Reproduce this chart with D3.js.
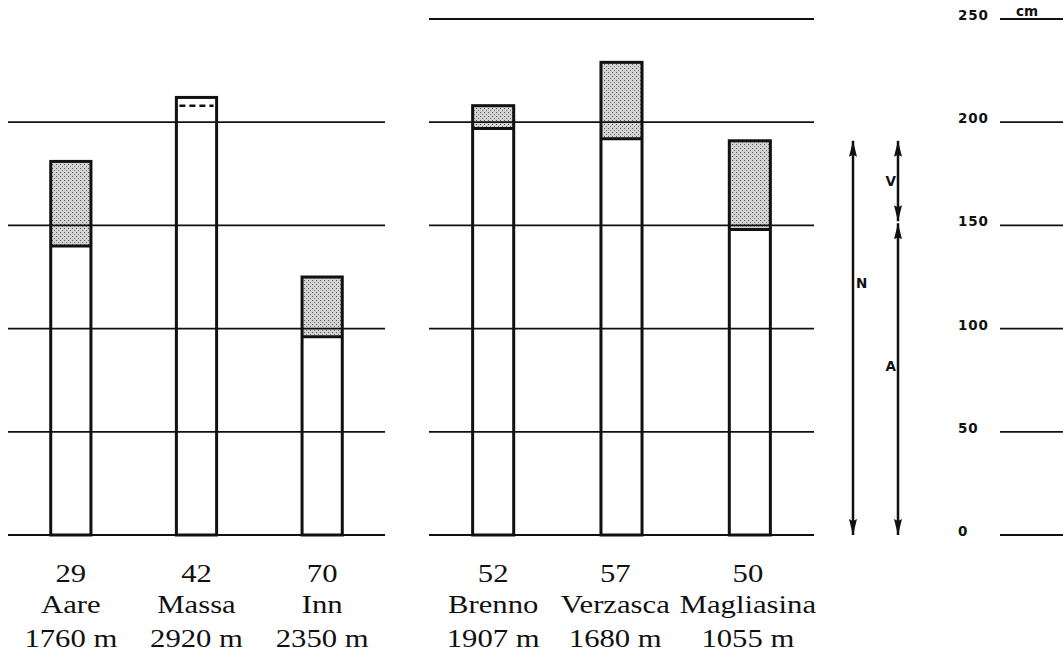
<!DOCTYPE html>
<html>
<head>
<meta charset="utf-8">
<script src="https://cdn.jsdelivr.net/npm/d3@7"></script>
<style>
  body { margin: 0; background: #fff; }
  svg { display: block; }
  .lbl { font-family: "Liberation Serif", "Times New Roman", serif; font-size: 26px; fill: #111; }
  .key { font-family: "DejaVu Sans", sans-serif; font-weight: bold; font-size: 13.5px; fill: #111; }
</style>
</head>
<body>
<div id="chart"></div>
<script>
// Precipitation bars (N = A + V) for six rivers, two groups, with a key and cm scale

const rivers = ["Aare", "Massa", "Inn", "Brenno", "Verzasca", "Magliasina"];
const stations = ["29", "42", "70", "52", "57", "50"];
const altitudes = [1760, 2920, 2350, 1907, 1680, 1055]; // m
const groups = ["north", "north", "north", "south", "south", "south"];
const totalN = [181, 212, 125, 208, 229, 191]; // cm, bar top
const partA = [140, 208, 96, 197, 192, 148];   // cm, split line
const splitKnown = [true, false, true, true, true, true]; // false -> dashed, no shading
const gridNorth = [0, 50, 100, 150, 200];
const gridSouth = [0, 50, 100, 150, 200, 250];
const scaleTicks = [0, 50, 100, 150, 200, 250];
const keyArrows = [
  {label: "N", col: 0, lo: 0, hi: 191},
  {label: "V", col: 1, lo: 152, hi: 191},
  {label: "A", col: 1, lo: 0, hi: 151}];

const rows = rivers.map((r, i) => ({
  river: r, station: stations[i], alt: altitudes[i], group: groups[i],
  n: totalN[i], a: partA[i], known: splitKnown[i]
}));

const W = 1063, H = 655;
const svg = d3.select("#chart").append("svg")
  .attr("width", W).attr("height", H);

const y = d3.scaleLinear().domain([0, 250]).range([535, 19]);

const panels = [
  {key: "north", x0: 8, x1: 385, grid: gridNorth},
  {key: "south", x0: 429, x1: 814, grid: gridSouth}];

panels.forEach(p => {
  p.x = d3.scaleBand()
    .domain(rows.filter(d => d.group === p.key).map(d => d.river))
    .range([p.x0, p.x1])
    .paddingInner(0.68)
    .paddingOuter(0.34);
});
const panelOf = d => panels.find(p => p.key === d.group);
const bx = d => panelOf(d).x(d.river);
const bw = d => panelOf(d).x.bandwidth();

// stipple fill for the V part
const defs = svg.append("defs");
const pat = defs.append("pattern")
  .attr("id", "stipple")
  .attr("width", 4).attr("height", 4)
  .attr("patternUnits", "userSpaceOnUse");
pat.append("rect").attr("width", 4).attr("height", 4).attr("fill", "#d2d2d2");
pat.append("rect").attr("x", 0).attr("y", 0).attr("width", 1).attr("height", 1).attr("fill", "#555");
pat.append("rect").attr("x", 2).attr("y", 2).attr("width", 1).attr("height", 1).attr("fill", "#777");

defs.append("marker")
  .attr("id", "head")
  .attr("viewBox", "0 -4 16 8")
  .attr("refX", 16).attr("refY", 0)
  .attr("markerWidth", 16).attr("markerHeight", 8)
  .attr("markerUnits", "userSpaceOnUse")
  .attr("orient", "auto-start-reverse")
  .append("path")
  .attr("d", "M0,-4L16,0L0,4L2,0Z")
  .attr("fill", "#111");

// shaded V part
svg.append("g").selectAll("rect")
  .data(rows.filter(d => d.known))
  .join("rect")
  .attr("x", bx)
  .attr("y", d => y(d.n))
  .attr("width", bw)
  .attr("height", d => y(d.a) - y(d.n))
  .attr("fill", "url(#stipple)");

// grid lines per panel
panels.forEach(p => {
  svg.append("g").selectAll("line")
    .data(p.grid)
    .join("line")
    .attr("x1", p.x0).attr("x2", p.x1)
    .attr("y1", d => y(d)).attr("y2", d => y(d))
    .attr("stroke", "#111")
    .attr("stroke-width", 1.8);
});

// bar outlines
svg.append("g").selectAll("rect")
  .data(rows)
  .join("rect")
  .attr("x", bx)
  .attr("y", d => y(d.n))
  .attr("width", bw)
  .attr("height", d => y(0) - y(d.n))
  .attr("fill", "none")
  .attr("stroke", "#111")
  .attr("stroke-width", 3);

// split line between A and V
svg.append("g").selectAll("line")
  .data(rows)
  .join("line")
  .attr("x1", d => bx(d) + (d.known ? 0 : 3))
  .attr("x2", d => bx(d) + bw(d) - (d.known ? 0 : 3))
  .attr("y1", d => y(d.a)).attr("y2", d => y(d.a))
  .attr("stroke", "#111")
  .attr("stroke-width", d => d.known ? 3 : 2.5)
  .attr("stroke-dasharray", d => d.known ? null : "6,4");

// labels under the bars: station, river, altitude
const sx = 1.18;
const lines = [d => d.station, d => d.river, d => d.alt + " m"];
const dy = [47, 78, 112];
const labels = svg.append("g").selectAll("g")
  .data(rows)
  .join("g");
lines.forEach((f, k) => {
  labels.append("text")
    .attr("class", "lbl")
    .attr("text-anchor", "middle")
    .attr("y", y(0) + dy[k])
    .attr("transform", `scale(${sx},1)`)
    .text(f);
});
labels.each(function(d) {
  d.lw = d3.max(d3.select(this).selectAll("text").nodes(), n => n.getComputedTextLength()) * sx;
});
// keep labels inside their panel and apart from each other
panels.forEach(p => {
  const ds = rows.filter(d => d.group === p.key);
  let limit = p.x1 + 2;
  for (let k = ds.length - 1; k >= 0; k--) {
    const d = ds[k];
    let cx = bx(d) + bw(d) / 2;
    if (cx + d.lw / 2 > limit) cx = limit - d.lw / 2;
    d.lx = cx;
    limit = cx - d.lw / 2 - 10;
  }
});
labels.attr("transform", d => `translate(${d.lx},0)`);

// key arrows N, V, A
const keyX = [853, 898];
svg.append("g").selectAll("line")
  .data(keyArrows)
  .join("line")
  .attr("x1", d => keyX[d.col]).attr("x2", d => keyX[d.col])
  .attr("y1", d => y(d.lo)).attr("y2", d => y(d.hi))
  .attr("stroke", "#111")
  .attr("stroke-width", 2.5)
  .attr("marker-start", "url(#head)")
  .attr("marker-end", "url(#head)");

svg.append("g").selectAll("text")
  .data(keyArrows)
  .join("text")
  .attr("class", "key")
  .attr("x", d => d.col === 0 ? keyX[0] + 3 : keyX[1] - 2)
  .attr("y", d => d.label === "N" ? 288 : d.label === "V" ? 186 : 371)
  .attr("text-anchor", d => d.col === 0 ? "start" : "end")
  .text(d => d.label);

// cm scale on the right
const scale = svg.append("g");
scale.selectAll("line")
  .data(scaleTicks)
  .join("line")
  .attr("x1", 1000).attr("x2", W)
  .attr("y1", d => y(d)).attr("y2", d => y(d))
  .attr("stroke", "#111")
  .attr("stroke-width", 1.8);
scale.selectAll("text")
  .data(scaleTicks)
  .join("text")
  .attr("class", "key")
  .attr("x", 958)
  .attr("y", d => y(d) + 1)
  .attr("letter-spacing", 0.8)
  .text(d => d);
scale.append("text")
  .attr("class", "key")
  .attr("x", 1016)
  .attr("y", y(250) - 3)
  .text("cm");
</script>
</body>
</html>
